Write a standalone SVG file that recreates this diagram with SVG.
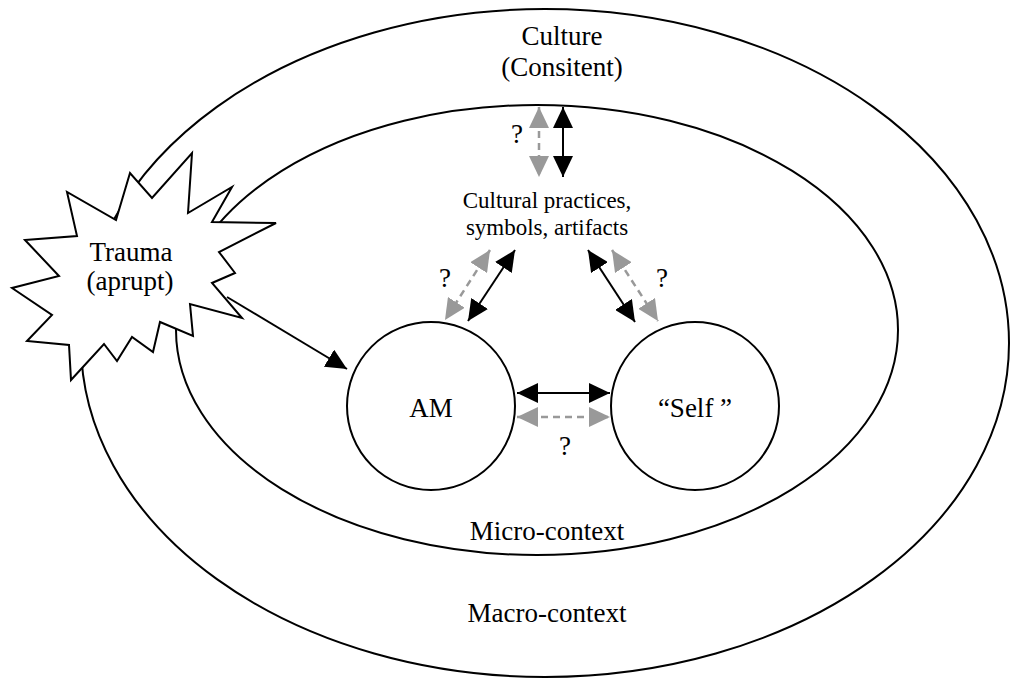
<svg xmlns="http://www.w3.org/2000/svg" width="1010" height="679" viewBox="0 0 1010 679">
<style>
.shape{fill:none;stroke:#000;stroke-width:2}
.fillw{fill:#fff;stroke:#000;stroke-width:2}
text{font-family:"Liberation Serif","Times New Roman",serif;fill:#000;text-anchor:middle}
.big{font-size:27px}
.small{font-size:23px}
.blk{stroke:#000;stroke-width:2;fill:none}
.gry{stroke:#999;stroke-width:2.5;fill:none;stroke-dasharray:7 5}
</style>
<defs>
<marker id="ab" viewBox="0 0 21 20" refX="21" refY="10" markerWidth="21" markerHeight="20" markerUnits="userSpaceOnUse" orient="auto-start-reverse">
<path d="M0,0 L21,10 L0,20 z" fill="#000"/>
</marker>
<marker id="ag" viewBox="0 0 21 20" refX="21" refY="10" markerWidth="21" markerHeight="20" markerUnits="userSpaceOnUse" orient="auto-start-reverse">
<path d="M0,0 L21,10 L0,20 z" fill="#999"/>
</marker>
</defs>
<rect width="1010" height="679" fill="#fff"/>
<g id="macro">
<ellipse class="shape" cx="545" cy="343" rx="464" ry="334"/>
<text class="big" x="547" y="622">Macro-context</text>
</g>
<g id="culture-label">
<text class="big" x="562" y="45">Culture</text>
<text class="big" x="562" y="76">(Consitent)</text>
</g>
<g id="micro">
<ellipse class="shape" cx="537" cy="330" rx="361" ry="225"/>
<text class="big" x="547" y="540">Micro-context</text>
</g>
<g id="practices">
<text class="small" x="547" y="208">Cultural practices,</text>
<text class="small" x="547" y="235">symbols, artifacts</text>
</g>
<g id="trauma">
<polygon class="fillw" points="25,240 77,236 67,192 116,220 130,173 152,198 192,153 188,213 232,187 212,222 276,223 219,252 235,273 212,283 242,318 190,304 193,336 160,322 153,352 132,337 117,361 104,344 71,380 69,345 27,341 52,315 12,288 59,276"/>
<text class="big" x="131" y="261">Trauma</text>
<text class="big" x="130" y="290">(aprupt)</text>
</g>
<g id="am">
<circle class="fillw" cx="431" cy="406" r="84"/>
<text class="big" x="431" y="417">AM</text>
</g>
<g id="self">
<circle class="fillw" cx="695" cy="406" r="84"/>
<text class="big" x="695" y="417">“Self ”</text>
</g>
<g id="connectors">
<line class="gry" x1="539" y1="107" x2="539" y2="177" marker-start="url(#ag)" marker-end="url(#ag)"/>
<line class="blk" x1="563" y1="107" x2="563" y2="177" marker-start="url(#ab)" marker-end="url(#ab)"/>
<line class="gry" x1="490" y1="250" x2="445" y2="320" marker-start="url(#ag)" marker-end="url(#ag)"/>
<line class="blk" x1="515" y1="250" x2="468" y2="321" marker-start="url(#ab)" marker-end="url(#ab)"/>
<line class="blk" x1="588" y1="250" x2="635" y2="322" marker-start="url(#ab)" marker-end="url(#ab)"/>
<line class="gry" x1="612" y1="250" x2="658" y2="321" marker-start="url(#ag)" marker-end="url(#ag)"/>
<line class="blk" x1="517" y1="393" x2="610" y2="393" marker-start="url(#ab)" marker-end="url(#ab)"/>
<line class="gry" x1="517" y1="417" x2="610" y2="417" marker-start="url(#ag)" marker-end="url(#ag)"/>
<line class="blk" x1="227" y1="297" x2="347" y2="369" marker-end="url(#ab)"/>
<text class="big" x="517" y="143">?</text>
<text class="big" x="445" y="287">?</text>
<text class="big" x="662" y="287">?</text>
<text class="big" x="565" y="455">?</text>
</g>
</svg>
